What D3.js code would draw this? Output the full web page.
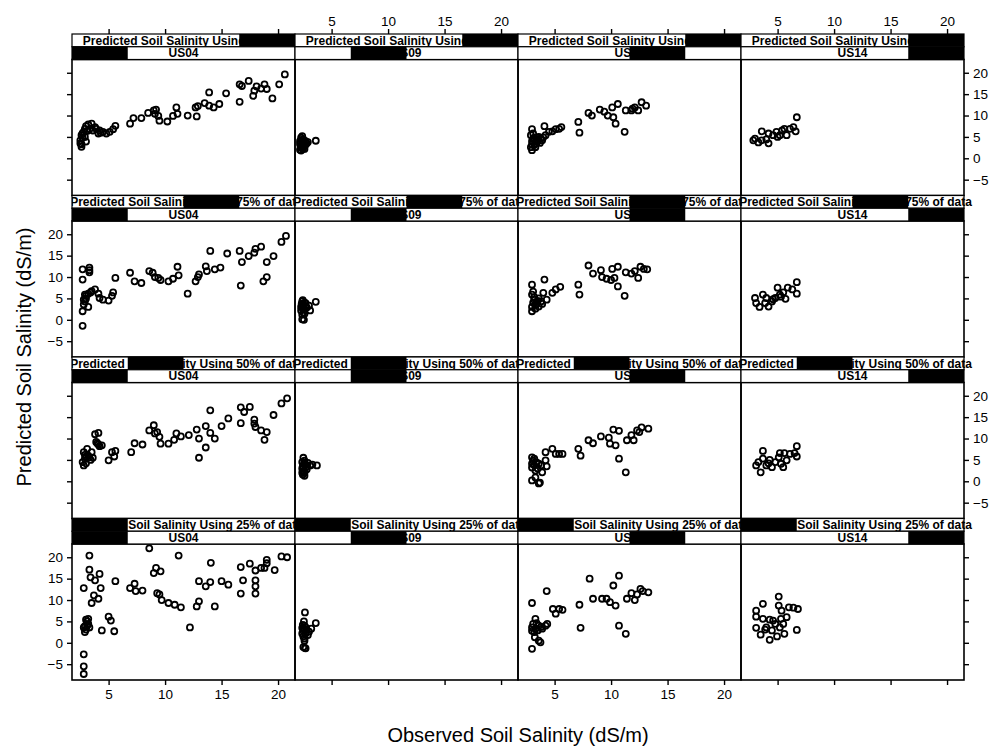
<!DOCTYPE html>
<html>
<head>
<meta charset="utf-8">
<script src="https://cdn.jsdelivr.net/npm/d3@7"></script>
<style>
  body { margin: 0; background: #fff; }
  text { font-family: "Liberation Sans", Arial, sans-serif; }
</style>
</head>
<body>
<svg id="chart" width="995" height="751"></svg>
<script>
// lattice layout: rows = share of data used, columns = site
const sites = ["US04", "US09", "US13", "US14"];
const pctLevels = ["25%", "50%", "75%", "100%"];   // level order (bottom row = first level)
const rowOrder = ["100%", "75%", "50%", "25%"];    // top to bottom
const pctLabels = {
  "100%": "Predicted Soil Salinity Using all data",
  "75%": "Predicted Soil Salinity Using 75% of data",
  "50%": "Predicted Soil Salinity Using 50% of data",
  "25%": "Predicted Soil Salinity Using 25% of data"
};
const xTicks = [5, 10, 15, 20];
const yTicks = [-5, 0, 5, 10, 15, 20];
const xDomain = [1.76, 21.5];
const yDomain = [-8.7, 23.1];

// observed vs predicted
const us04_100 = [[2.6,2.7],[3.0,3.9],[2.5,4.2],[2.6,5.4],[2.8,6.2],[2.9,6.9],[3.2,7.9],[3.5,8.1],[3.8,7.3],[3.6,6.5],[4.1,5.8],[4.2,6.5],[4.5,6.2],[4.8,5.8],[5.1,6.2],[5.4,6.8],[5.6,7.6],[6.9,8.1],[7.2,9.4],[7.9,9.4],[8.5,10.6],[9.0,11.2],[9.2,11.4],[9.1,10.4],[9.4,9.9],[9.5,8.8],[10.2,8.6],[10.7,9.9],[11.0,11.9],[11.1,10.4],[12.0,10.0],[12.8,9.8],[12.7,11.9],[12.9,12.2],[13.5,12.9],[13.9,12.3],[14.3,11.9],[14.8,12.7],[13.9,15.4],[15.4,15.2],[16.6,13.2],[16.6,17.3],[16.8,16.9],[17.4,18.1],[17.8,14.6],[17.9,15.8],[18.1,16.8],[18.5,16.3],[18.8,17.3],[19.0,16.2],[19.5,14.0],[20.1,17.3],[20.6,19.6],[2.5,3.5],[2.7,4.8],[2.9,5.0],[3.3,6.8],[3.0,7.5],[2.6,3.3],[2.7,5.9],[3.1,6.4],[4.3,6.0],[3.9,6.9]];
const us09_100 = [[2.2,2.0],[2.3,3.0],[2.2,4.0],[2.3,4.8],[2.4,2.5],[2.4,3.6],[2.5,4.4],[2.5,2.9],[2.6,3.3],[2.7,4.0],[2.8,3.5],[2.9,3.8],[2.6,2.2],[3.6,4.1],[2.3,1.8],[2.2,3.3],[2.4,5.2],[2.3,2.6],[2.5,3.9],[2.35,4.3],[2.6,2.8],[2.45,2.2],[2.7,3.2]];
const us13_100 = [[3.0,1.9],[3.0,6.8],[2.9,5.4],[3.1,4.6],[3.2,3.1],[3.5,3.9],[3.6,5.0],[3.9,4.2],[4.1,7.5],[4.2,5.4],[4.5,6.2],[4.8,6.3],[5.1,6.8],[5.4,6.9],[5.6,7.3],[7.1,8.5],[7.2,6.0],[8.0,10.6],[8.3,10.0],[9.0,11.4],[9.4,10.9],[9.7,10.0],[10.1,11.9],[10.2,9.6],[10.4,8.1],[10.6,12.7],[11.2,6.2],[11.3,11.2],[11.8,11.2],[12.1,11.9],[12.4,11.2],[12.7,13.1],[13.1,12.3],[11.9,11.6],[3.0,4.0],[3.2,4.8],[3.3,3.5],[3.4,4.4],[3.7,3.6],[3.8,4.6],[4.0,4.9],[2.9,2.6],[3.0,3.2],[3.1,5.8],[3.3,2.6],[3.5,4.8]];
const us14_100 = [[3.0,4.6],[3.3,3.7],[3.6,6.3],[3.6,4.2],[4.2,3.5],[4.2,5.8],[4.6,5.4],[4.9,6.2],[5.2,5.4],[5.4,6.5],[5.6,6.9],[5.8,5.4],[6.1,6.9],[6.4,7.3],[6.6,6.3],[6.7,9.6],[2.85,4.2],[4.0,4.4],[5.0,5.0]];

const us04_75 = [[2.7,-1.4],[2.7,2.0],[2.7,9.4],[2.7,11.8],[3.3,12.2],[3.3,11.1],[3.2,3.0],[2.9,4.3],[2.8,4.7],[3.0,5.6],[3.2,6.1],[3.5,6.7],[3.8,7.1],[4.1,6.1],[4.2,5.1],[4.5,4.7],[5.0,4.5],[5.3,5.6],[5.4,6.4],[5.6,9.8],[6.9,11.0],[7.3,9.0],[7.9,8.6],[8.6,11.4],[8.9,11.0],[9.1,10.0],[9.4,9.8],[9.6,9.3],[10.3,9.0],[10.7,9.6],[11.1,12.4],[11.2,10.4],[12.0,6.1],[12.7,9.0],[12.9,10.0],[13.0,10.6],[13.6,12.5],[13.7,11.4],[14.0,16.1],[14.4,11.8],[14.9,12.2],[15.5,15.5],[16.6,16.1],[16.7,8.0],[16.8,13.5],[17.4,14.9],[17.9,15.7],[18.0,16.6],[18.5,17.1],[18.7,9.0],[19.0,10.0],[19.0,13.5],[19.6,14.9],[20.3,18.2],[20.7,19.6],[2.8,3.6],[3.0,5.0],[3.3,11.6],[3.4,6.4],[2.9,5.9]];
const us09_75 = [[2.4,0.1],[2.3,3.0],[2.4,4.3],[2.5,3.6],[2.6,2.5],[2.5,1.7],[2.7,3.9],[2.8,2.9],[3.0,3.3],[3.1,2.2],[2.6,4.0],[3.6,4.2],[2.55,0.0],[2.3,2.2],[2.4,1.2],[2.35,3.7],[2.5,2.6],[2.45,4.6],[2.6,1.4],[2.7,3.1],[2.4,2.9]];
const us13_75 = [[3.0,2.0],[3.0,8.2],[3.0,5.9],[3.2,4.7],[3.3,3.5],[3.6,3.1],[3.8,4.3],[4.1,9.4],[4.0,6.3],[4.3,4.7],[4.8,6.3],[5.1,7.1],[5.5,7.7],[7.1,8.2],[7.2,5.9],[8.0,12.7],[8.4,10.8],[9.1,11.6],[9.2,10.0],[9.6,9.6],[10.0,9.3],[10.1,11.9],[10.3,9.8],[10.6,12.4],[10.6,7.8],[11.2,5.6],[11.3,11.1],[11.8,10.8],[12.1,11.4],[12.4,9.8],[12.6,12.4],[12.9,11.9],[13.2,11.8],[3.1,4.0],[3.2,5.3],[3.4,4.2],[3.6,5.0],[3.9,3.7],[3.0,3.0],[3.1,6.6],[3.3,2.6],[3.5,4.4]];
const us14_75 = [[3.0,5.1],[3.1,3.9],[3.4,3.0],[3.7,5.9],[4.0,5.1],[4.2,3.1],[4.5,4.3],[4.8,5.1],[5.0,7.5],[5.2,5.9],[5.5,6.4],[5.7,4.9],[5.9,7.5],[6.3,7.1],[6.7,6.1],[6.7,8.8],[3.9,3.9],[4.6,4.8],[5.3,5.4]];

const us04_50 = [[2.8,3.7],[2.8,6.8],[2.9,5.3],[3.1,7.6],[3.2,6.0],[3.4,5.0],[3.5,6.8],[3.8,11.0],[4.1,11.3],[4.1,8.6],[4.4,8.4],[3.9,9.2],[5.0,4.9],[5.3,6.8],[5.5,5.8],[5.6,7.1],[7.0,6.8],[7.3,8.9],[8.0,8.6],[8.6,11.9],[9.0,13.1],[9.1,11.2],[9.3,11.5],[9.5,10.4],[9.6,8.8],[10.3,8.8],[10.8,9.7],[11.0,11.2],[11.4,10.5],[12.1,10.8],[12.8,12.1],[13.0,10.0],[13.0,5.5],[13.6,12.9],[13.6,7.9],[14.0,16.6],[14.0,11.3],[14.4,10.0],[15.0,12.9],[15.6,14.7],[16.7,17.3],[16.7,13.6],[17.0,16.2],[17.5,17.4],[17.9,14.4],[18.0,12.7],[17.9,13.5],[18.5,11.9],[18.8,9.7],[19.0,11.5],[19.6,15.5],[20.3,18.2],[20.8,19.4],[2.7,4.5],[3.0,4.2],[3.3,5.6],[2.9,6.2],[3.6,5.5],[4.0,8.9],[4.2,8.2],[3.0,5.8]];
const us09_50 = [[2.5,5.5],[2.4,4.5],[2.45,3.5],[2.5,2.4],[2.6,1.3],[2.7,3.9],[2.8,2.8],[2.9,4.3],[3.1,3.7],[3.3,3.9],[3.7,3.7],[2.4,2.0],[2.6,4.8],[2.5,3.0],[2.4,3.0],[2.55,4.1],[2.6,2.0],[2.7,3.2],[2.45,1.6]];
const us13_50 = [[3.0,0.2],[3.6,-0.5],[3.7,-0.3],[3.3,0.9],[3.2,5.3],[3.0,4.1],[3.3,2.5],[3.9,2.1],[3.8,3.7],[4.2,4.9],[4.2,6.8],[4.3,3.5],[4.8,7.6],[5.1,6.4],[5.4,6.4],[5.7,6.4],[7.1,7.6],[7.3,6.0],[8.0,9.6],[8.4,8.9],[9.1,10.5],[9.8,10.2],[9.9,8.8],[10.2,12.1],[10.4,8.4],[10.7,11.8],[10.7,5.3],[11.3,2.1],[11.4,9.6],[12.0,9.6],[11.8,10.8],[12.3,11.9],[12.5,11.5],[12.7,12.6],[13.3,12.3],[3.0,3.2],[3.1,4.8],[3.4,4.4],[3.5,3.0],[3.6,4.1],[3.0,5.6],[3.2,3.8]];
const us14_50 = [[3.1,3.7],[3.3,4.5],[3.5,2.1],[3.7,7.1],[3.7,5.3],[4.0,3.7],[4.3,5.0],[4.5,3.3],[4.8,4.5],[5.1,5.6],[5.3,4.1],[5.5,3.3],[5.6,6.6],[5.8,4.9],[6.1,6.4],[6.5,6.6],[6.7,5.8],[6.7,8.2],[5.2,6.6],[4.2,4.2]];

const us04_25 = [[2.8,12.8],[2.8,-2.7],[2.8,-5.5],[2.8,-7.3],[3.3,20.4],[3.3,17.1],[3.4,15.3],[3.8,14.6],[3.7,11.1],[3.5,9.3],[4.1,10.3],[4.2,16.1],[4.3,12.8],[3.0,5.4],[2.8,3.6],[2.9,2.5],[3.1,4.0],[3.3,3.6],[4.4,2.9],[5.0,6.1],[5.2,5.2],[5.5,2.7],[5.6,14.4],[6.9,12.8],[7.3,13.8],[7.4,12.1],[8.0,12.2],[8.6,22.1],[9.0,16.3],[9.2,17.5],[9.6,16.7],[9.3,11.6],[9.5,11.3],[9.7,10.0],[10.3,9.3],[10.85,8.9],[11.2,20.4],[11.4,8.3],[12.2,3.6],[12.8,8.5],[13.0,9.7],[13.0,14.4],[13.6,13.2],[14.0,14.2],[14.05,18.7],[14.4,8.5],[15.0,14.4],[15.6,13.6],[16.7,17.7],[16.7,11.5],[16.9,14.6],[17.5,18.5],[18.0,16.9],[18.0,14.6],[18.0,13.2],[18.0,11.5],[18.5,17.5],[18.8,17.5],[19.0,18.6],[19.0,19.4],[19.7,17.0],[20.3,20.2],[20.8,20.0],[3.1,5.0],[3.2,4.4],[2.9,3.9],[3.0,3.1],[3.2,5.6]];
const us09_25 = [[2.64,7.1],[2.55,5.0],[2.64,-1.2],[3.6,4.6],[2.4,3.5],[2.5,2.8],[2.5,1.5],[2.6,0.5],[2.6,4.0],[2.7,2.2],[2.8,3.0],[2.9,1.8],[3.0,2.6],[3.2,3.3],[2.5,-1.0],[2.7,-1.3],[2.4,2.2],[2.45,4.2],[2.55,3.2],[2.6,1.0],[2.7,3.6]];
const us13_25 = [[3.0,-1.4],[3.0,9.3],[3.3,5.6],[3.25,1.3],[3.75,0.1],[3.6,0.5],[3.0,3.6],[3.5,2.9],[3.9,3.3],[4.2,4.0],[4.35,4.4],[4.3,12.1],[4.85,7.9],[5.1,6.8],[5.4,7.9],[5.7,7.7],[7.2,8.9],[7.3,3.5],[8.1,15.0],[8.4,10.3],[9.2,10.3],[9.6,10.3],[9.9,9.5],[10.2,13.4],[10.4,8.7],[10.7,15.7],[10.7,4.0],[11.3,2.1],[11.4,10.3],[11.8,11.6],[12.1,10.0],[12.3,11.3],[12.6,12.6],[12.8,12.1],[13.3,11.8],[3.1,4.4],[3.3,3.2],[3.6,4.0],[3.2,2.5],[3.0,2.8],[3.4,4.6],[3.8,3.7]];
const us14_25 = [[3.1,7.5],[3.1,6.1],[3.1,3.5],[3.7,9.1],[3.5,1.9],[3.7,5.6],[4.0,3.6],[4.3,0.7],[4.3,5.4],[4.5,2.9],[4.8,4.4],[4.95,1.5],[5.1,10.8],[5.1,8.7],[5.2,3.6],[5.35,7.5],[5.5,4.4],[5.6,2.1],[5.8,6.0],[6.0,8.3],[6.4,8.2],[6.8,7.9],[6.7,3.0],[3.9,3.1],[4.6,5.2],[5.3,5.6]];

const panelData = {
  "100%": [us04_100, us09_100, us13_100, us14_100],
  "75%": [us04_75, us09_75, us13_75, us14_75],
  "50%": [us04_50, us09_50, us13_50, us14_50],
  "25%": [us04_25, us09_25, us13_25, us14_25]
};

const svg = d3.select('#chart');
const colBand = d3.scaleBand().domain(sites).range([72, 964]);
const rowBand = d3.scaleBand().domain(rowOrder).range([34, 680]);
const stripH = 12.75;

const panels = [];
rowOrder.forEach((pct, ri) => {
  sites.forEach((site, ci) => {
    panels.push({pct, site, ri, ci, pts: panelData[pct][ci]});
  });
});

const defs = svg.append('defs');

panels.forEach(p => {
  const x0 = colBand(p.site), w = colBand.bandwidth();
  const y0 = rowBand(p.pct);
  const py0 = y0 + 2 * stripH, py1 = y0 + rowBand.bandwidth();
  const x = d3.scaleLinear().domain(xDomain).range([x0, x0 + w]);
  const y = d3.scaleLinear().domain(yDomain).range([py1, py0]);
  const g = svg.append('g');

  // points
  g.selectAll('circle').data(p.pts).enter().append('circle')
    .attr('cx', d => x(d[0]))
    .attr('cy', d => y(d[1]))
    .attr('r', 3)
    .attr('fill', 'none')
    .attr('stroke', '#000')
    .attr('stroke-width', 1.8);

  // panel frame
  g.append('rect')
    .attr('x', x0).attr('y', py0).attr('width', w).attr('height', py1 - py0)
    .attr('fill', 'none').attr('stroke', '#000').attr('stroke-width', 1.6);

  // strips (clip on the left edge, let the last column spill to the right)
  const clipId = `clip-${p.ri}-${p.ci}`;
  defs.append('clipPath').attr('id', clipId).append('rect')
    .attr('x', x0).attr('y', y0).attr('width', w + 40).attr('height', 2 * stripH);
  const strips = [
    {level: pctLevels.indexOf(p.pct), n: pctLevels.length, label: pctLabels[p.pct], dx: 3},
    {level: p.ci, n: sites.length, label: p.site, dx: 0}
  ];
  strips.forEach((s, si) => {
    const sy = y0 + si * stripH;
    const sg = g.append('g').attr('clip-path', `url(#${clipId})`);
    sg.append('rect').attr('x', x0).attr('y', sy).attr('width', w).attr('height', stripH)
      .attr('fill', '#fff');
    sg.append('rect').attr('x', x0 + s.level * w / s.n).attr('y', sy)
      .attr('width', w / s.n).attr('height', stripH).attr('fill', '#000');
    sg.append('text').attr('x', x0 + w / 2 + s.dx).attr('y', sy + stripH - 2.2)
      .attr('text-anchor', 'middle')
      .style('font-size', '12px').style('font-weight', 'bold')
      .text(s.label);
    g.append('rect').attr('x', x0).attr('y', sy).attr('width', w).attr('height', stripH)
      .attr('fill', 'none').attr('stroke', '#000').attr('stroke-width', 1.2);
  });

  // alternating lattice axes
  const tickLen = 5;
  if (p.ri === 0) {
    const labelled = p.ci % 2 === 1;
    const ax = d3.axisTop(x).tickValues(xTicks).tickSize(tickLen).tickPadding(3)
      .tickFormat(labelled ? d3.format('d') : '');
    g.append('g').attr('transform', `translate(0,${y0})`).call(ax);
  }
  if (p.ri === rowOrder.length - 1) {
    const labelled = p.ci % 2 === 0;
    const ax = d3.axisBottom(x).tickValues(xTicks).tickSize(tickLen).tickPadding(4)
      .tickFormat(labelled ? d3.format('d') : '');
    g.append('g').attr('transform', `translate(0,${py1})`).call(ax);
  }
  if (p.ci === 0) {
    const labelled = p.ri % 2 === 1;
    const ax = d3.axisLeft(y).tickValues(yTicks).tickSize(tickLen).tickPadding(4)
      .tickFormat(labelled ? d3.format('d') : '');
    g.append('g').attr('transform', `translate(${x0},0)`).call(ax);
  }
  if (p.ci === sites.length - 1) {
    const labelled = p.ri % 2 === 0;
    const ax = d3.axisRight(y).tickValues(yTicks).tickSize(tickLen).tickPadding(4)
      .tickFormat(labelled ? d3.format('d') : '');
    g.append('g').attr('transform', `translate(${x0 + w},0)`).call(ax);
  }
});

svg.selectAll('.domain').remove();
svg.selectAll('.tick line').attr('stroke', '#000').attr('stroke-width', 1.4);
svg.selectAll('.tick text')
  .style('font-family', '"Liberation Sans", Arial, sans-serif')
  .style('font-size', '13.5px').attr('fill', '#000');

// axis titles
svg.append('text')
  .attr('x', 518).attr('y', 742)
  .attr('text-anchor', 'middle')
  .style('font-size', '20px')
  .text('Observed Soil Salinity (dS/m)');

svg.append('text')
  .attr('transform', 'translate(31,357) rotate(-90)')
  .attr('text-anchor', 'middle')
  .style('font-size', '20px')
  .text('Predicted Soil Salinity (dS/m)');
</script>
</body>
</html>
